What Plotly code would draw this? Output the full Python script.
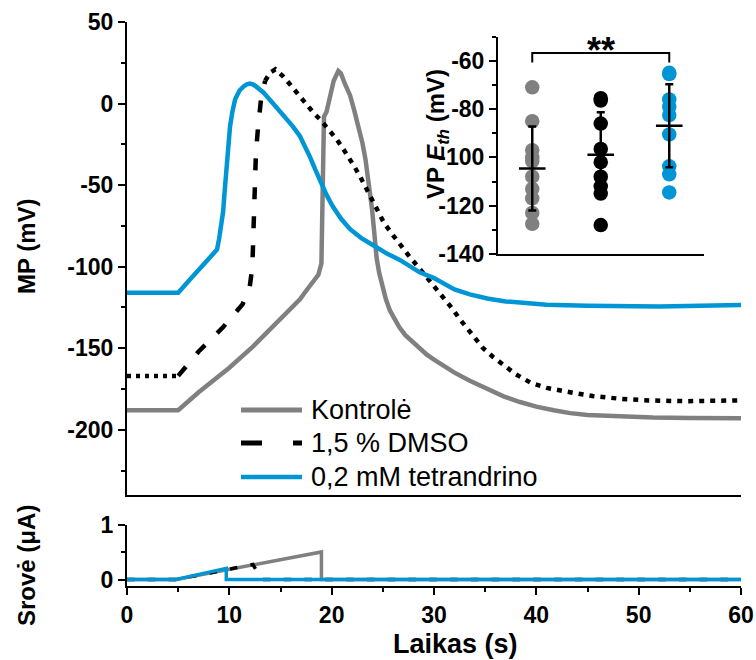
import numpy as np
import plotly.graph_objects as go

# ---------------- data ----------------
# Membrane potential (mV) vs time (s)
ctrl_t = [0, 5, 7, 10, 12.3, 15.6, 16.9, 17.6, 18.7, 19.0, 19.1, 19.15, 19.25, 19.5, 19.8, 20.2, 20.65,
          20.9, 21.3, 21.8, 22.2, 22.6, 23.0, 23.3, 23.55, 23.75, 23.95, 24.1, 24.25, 24.4, 24.65, 24.9,
          25.3, 25.7, 26.2, 26.6, 27.2, 27.7, 28.6, 29.3, 30, 31, 32, 33.5, 35.2, 36.8, 38.4, 40, 41.7,
          43.3, 45, 48, 51.4, 55, 60]
ctrl_v = [-188, -188, -177, -162, -149, -128, -120, -114, -105, -98, -60, -20, -8, -5, 3, 14, 20,
          18.5, 12, 5, -4, -13, -24, -34, -45, -54, -65, -75, -85, -95, -104, -111,
          -120, -127, -133, -137, -142, -145, -150, -154, -157, -161, -165, -170, -175, -179.5, -183, -185.8, -188,
          -189.8, -191, -192, -192.5, -192.8, -193]

dmso_t = [0, 5, 7, 9.4, 11.3, 12.0, 12.25, 12.35, 12.45, 12.6, 12.8, 13.1, 13.5, 14.0, 14.5, 15.2,
          15.9, 16.4, 16.9, 17.6, 18.2, 18.9, 19.7, 20.5, 21.2, 21.8, 22.3, 22.8, 23.4, 24.0, 24.5, 25.1,
          25.9, 26.7, 27.5, 28.3, 29.1, 29.9, 30.5, 31.0, 31.7, 32.5, 33.5, 34.8, 35.8, 36.8, 38.0, 39.4,
          41.0, 43.3, 45.5, 48.2, 51.0, 54.7, 60]
dmso_v = [-167, -167, -152, -137, -123, -112, -100, -80, -55, -30, -15, 3, 14, 19, 21, 17,
          12, 8, 4, -1, -5.5, -10, -16, -22, -28.5, -34, -39.5, -45, -52, -60, -66, -73,
          -80, -87, -93, -99, -105, -111, -115, -119, -125, -132, -140, -150, -155.5, -160.5, -166, -171,
          -174.3, -177, -179.3, -181, -182, -182.5, -182]

tet_t = [0, 5, 6, 7, 8, 8.8, 9.0, 9.2, 9.4, 9.5, 9.6, 9.75, 9.9, 10.07, 10.3, 10.56, 10.8, 11.0, 11.4,
         11.7, 12.0, 12.3, 12.6, 13.3, 14.0, 14.5, 15.0, 15.6, 16.2, 16.9, 17.4, 17.9, 18.4, 18.9, 19.5,
         20.1, 20.9, 21.8, 22.9, 24.1, 25.4, 26.7, 27.7, 28.6, 30, 31, 32, 33.5, 35.2, 37, 38.4, 41, 45, 52, 60]
tet_v = [-116, -116, -109, -102, -95, -89.5, -83, -76, -66, -57, -48, -34, -23, -14, -5, 2.5, 5.5, 8, 10.5,
         11.8, 12.2, 11.8, 10.5, 7, 2, -1.5, -5, -9.7, -14, -20, -26, -33, -40.5, -48, -56,
         -63, -70.5, -77, -82.5, -87, -92, -96, -100, -103.5, -107, -110.5, -114, -117, -119.5, -121.3, -122,
         -123.3, -124, -124.5, -123.5]

# Injected current (uA) vs time (s)
cur_ctrl_t = [0, 4.8, 19.0, 19.0, 60]
cur_ctrl_i = [0.01, 0.01, 0.51, 0.01, 0.01]
cur_dmso_t = [0, 4.8, 12.3, 13.2, 60]
cur_dmso_i = [0.01, 0.01, 0.28, 0.01, 0.01]
cur_tet_t = [0, 4.8, 9.7, 9.7, 60]
cur_tet_i = [0.01, 0.01, 0.21, 0.01, 0.01]

# Inset: AP threshold E_th (mV)
groups = [1, 2, 3]
eth_ctrl = [-71, -85, -97, -100, -101.5, -108, -113, -117, -123, -127.5]
eth_dmso = [-75.5, -76.5, -86, -96.5, -102, -108, -112, -115, -128]
eth_tet = [-65, -65.5, -76, -79, -82.5, -90.5, -103.7, -107, -114.5]
eth_mean = [-104.6, -98.9, -86.9]
eth_sd = [17.4, 17.6, 17.2]
sig_label = "**"
sig_pair = [1, 3]
sig_level = -56.8

names = ["Kontrolė", "1,5 % DMSO", "0,2 mM tetrandrino"]

main_ticks = [-200, -150, -100, -50, 0, 50]
cur_ticks = [0, 1]
inset_ticks = [-140, -120, -100, -80, -60]
time_ticks = [0, 10, 20, 30, 40, 50, 60]

def lbl(v):
    return [str(x).replace("\u2212", "-") for x in v]

# ---------------- style ----------------
GRAY = "#808080"
BLACK = "#000000"
BLUE = "#0096D6"
FONT = "Liberation Sans"
LW = 4.5

fig = go.Figure()

# main panel
fig.add_trace(go.Scatter(x=ctrl_t, y=ctrl_v, mode="lines", line=dict(color=GRAY, width=LW),
                         xaxis="x2", yaxis="y2", showlegend=False))
dt = np.array(dmso_t); dv = np.array(dmso_v)
segs = [(dt <= 5), (dt >= 5) & (dt <= 13.5), (dt >= 13.5)]
dashes = ["4px,5px", "12px,17px", "5px,6px"]
for m, d in zip(segs, dashes):
    fig.add_trace(go.Scatter(x=dt[m], y=dv[m], mode="lines", line=dict(color=BLACK, width=LW, dash=d),
                             xaxis="x2", yaxis="y2", showlegend=False))
fig.add_trace(go.Scatter(x=tet_t, y=tet_v, mode="lines", line=dict(color=BLUE, width=LW),
                         xaxis="x2", yaxis="y2", showlegend=False))

# current panel
fig.add_trace(go.Scatter(x=cur_ctrl_t, y=cur_ctrl_i, mode="lines", line=dict(color=GRAY, width=3.5),
                         xaxis="x", yaxis="y", showlegend=False))
fig.add_trace(go.Scatter(x=cur_dmso_t, y=cur_dmso_i, mode="lines",
                         line=dict(color=BLACK, width=3.5, dash="7.5px,13.3px"),
                         xaxis="x", yaxis="y", showlegend=False))
fig.add_trace(go.Scatter(x=cur_tet_t, y=cur_tet_i, mode="lines", line=dict(color=BLUE, width=3.5),
                         xaxis="x", yaxis="y", showlegend=False))

# inset
for g, vals, col in zip(groups, [eth_ctrl, eth_dmso, eth_tet], [GRAY, BLACK, BLUE]):
    fig.add_trace(go.Scatter(x=[g] * len(vals), y=vals, mode="markers",
                             marker=dict(color=col, size=14.5, line=dict(width=0)),
                             xaxis="x3", yaxis="y3", showlegend=False))
fig.add_trace(go.Scatter(x=groups, y=eth_mean, mode="markers",
                         marker=dict(symbol="line-ew", size=19, color=BLACK, line=dict(color=BLACK, width=2.5)),
                         error_y=dict(type="data", array=eth_sd, width=4, thickness=2.5, color=BLACK),
                         xaxis="x3", yaxis="y3", showlegend=False))

# significance bracket
x0, x1 = sig_pair
fig.add_shape(type="path", xref="x3", yref="y3",
              path=f"M {x0},{sig_level - 3.9} L {x0},{sig_level} L {x1},{sig_level} L {x1},{sig_level - 3.9}",
              line=dict(color=BLACK, width=2))
fig.add_annotation(x=float(np.mean(sig_pair)), y=sig_level + 1.2, xref="x3", yref="y3", text=sig_label,
                   showarrow=False, xanchor="center", yanchor="middle",
                   font=dict(family=FONT, size=36, color=BLACK, weight="bold"))

# manual legend
def px2x(px):
    return (px - 127) / 614.0

def py2y(py):
    return (586 - py) / 564.0

leg_rows = [410, 443, 477]
leg_styles = [dict(color=GRAY, width=5), dict(color=BLACK, width=5, dash="21px,31px,9px"),
              dict(color=BLUE, width=4.5)]
for name, py, st in zip(names, leg_rows, leg_styles):
    fig.add_shape(type="line", xref="paper", yref="paper", x0=px2x(241), x1=px2x(302),
                  y0=py2y(py), y1=py2y(py), line=st)
    fig.add_annotation(x=px2x(309), y=py2y(py), xref="paper", yref="paper", text=name, showarrow=False,
                       xanchor="left", yanchor="middle", font=dict(family=FONT, size=27, color=BLACK))

# axis titles as annotations
tfont = dict(family=FONT, size=24, color=BLACK, weight="bold")
fig.add_annotation(x=px2x(26), y=py2y(246), xref="paper", yref="paper", text="MP (mV)", textangle=-90,
                   showarrow=False, xanchor="center", yanchor="middle", font=tfont)
fig.add_annotation(x=px2x(26), y=py2y(566), xref="paper", yref="paper", text="Srovė (μA)", textangle=-90,
                   showarrow=False, xanchor="center", yanchor="middle", font=tfont)
fig.add_annotation(x=px2x(455), y=py2y(644), xref="paper", yref="paper", text="Laikas (s)",
                   showarrow=False, xanchor="center", yanchor="middle",
                   font=dict(family=FONT, size=27, color=BLACK, weight="bold"))
fig.add_annotation(x=px2x(438), y=py2y(134), xref="paper", yref="paper",
                   text="VP <i>E<sub>th</sub></i> (mV)", textangle=-90,
                   showarrow=False, xanchor="center", yanchor="middle", font=tfont)

tick_font = dict(family=FONT, size=23, color=BLACK, weight="bold")
common = dict(showline=True, linecolor=BLACK, linewidth=2, showgrid=False, zeroline=False,
              tickcolor=BLACK, tickwidth=2, tickfont=tick_font, automargin=False)
minor = dict(ticks="outside", ticklen=4, tickwidth=2, tickcolor=BLACK)

fig.update_layout(
    width=756, height=660,
    margin=dict(l=127, r=15, t=22, b=74),
    paper_bgcolor="white", plot_bgcolor="rgba(0,0,0,0)",
    font=dict(family=FONT, color=BLACK),
    xaxis=dict(domain=[0, 1], range=[0, 60], anchor="y", ticks="outside", ticklen=7,
               tickmode="array", tickvals=time_ticks, ticktext=lbl(time_ticks),
               minor=dict(dtick=5, tick0=0, **minor), **common),
    yaxis=dict(domain=[0, py2y(525)], range=[-0.11, 1.0], anchor="x", ticks="outside", ticklen=7,
               tickmode="array", tickvals=cur_ticks, ticktext=lbl(cur_ticks),
               minor=dict(dtick=0.5, tick0=0, **minor), **common),
    xaxis2=dict(domain=[0, 1], range=[0, 60], anchor="y2", matches="x", ticks="", showticklabels=False, **common),
    yaxis2=dict(domain=[py2y(495), 1], range=[-240, 50], anchor="x2", ticks="outside", ticklen=7,
                tickmode="array", tickvals=main_ticks, ticktext=lbl(main_ticks),
                minor=dict(dtick=25, tick0=0, **minor), **common),
    xaxis3=dict(domain=[px2x(498), px2x(703.5)], range=[0.5, 3.5], anchor="y3", ticks="", showticklabels=False,
                **common),
    yaxis3=dict(domain=[py2y(254), py2y(36.6)], range=[-140, -50], anchor="x3", ticks="outside", ticklen=7,
                tickmode="array", tickvals=inset_ticks, ticktext=lbl(inset_ticks),
                minor=dict(dtick=10, tick0=-60, **minor), **common),
)

fig.write_html("out.html")
